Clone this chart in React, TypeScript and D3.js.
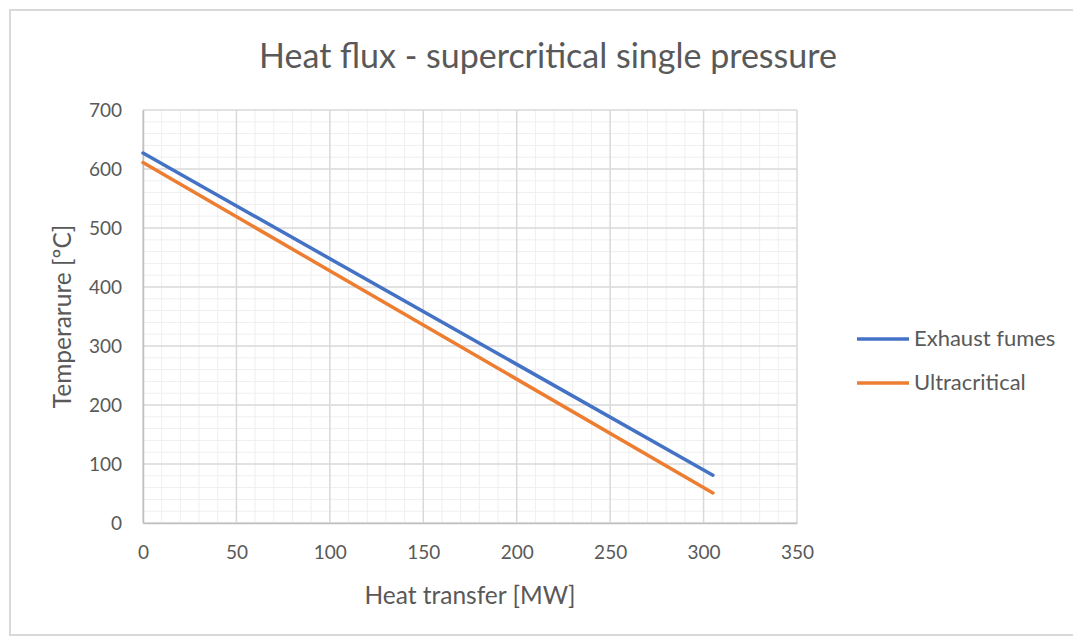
import { useEffect, useRef } from "react";
import * as d3 from "d3";

const heatTransfer = [0, 305];
const exhaustFumes = [627, 81];
const ultracritical = [611, 51];
const seriesNames = ["Exhaust fumes", "Ultracritical"];
const seriesColors = ["#4472C4", "#ED7D31"];
const xTicks = [0, 50, 100, 150, 200, 250, 300, 350];
const yTicks = [0, 100, 200, 300, 400, 500, 600, 700];

export default function App() {
  const svgRef = useRef(null);

  useEffect(() => {
    const width = 1073;
    const height = 637;
    const margin = { top: 110, right: 276, bottom: 114, left: 143 };
    const font = "Lato, 'Open Sans', sans-serif";
    const textColor = "#595959";

    const svg = d3.select(svgRef.current);
    svg.selectAll("*").remove();
    svg.attr("width", width).attr("height", height);

    // chart frame
    svg.append("rect")
      .attr("x", 10).attr("y", 10)
      .attr("width", width).attr("height", height - 12)
      .attr("fill", "#fff")
      .attr("stroke", "#d9d9d9")
      .attr("stroke-width", 2);

    const x = d3.scaleLinear()
      .domain([0, 350])
      .range([margin.left, width - margin.right]);

    const y = d3.scaleLinear()
      .domain([0, 700])
      .range([height - margin.bottom, margin.top]);

    const grid = svg.append("g");
    // minor grid
    grid.selectAll(".mx")
      .data(d3.range(0, 351, 10).filter(v => v % 50 !== 0))
      .join("line")
      .attr("x1", d => x(d)).attr("x2", d => x(d))
      .attr("y1", y(0)).attr("y2", y(700))
      .attr("stroke", "#efefef").attr("stroke-width", 1);
    grid.selectAll(".my")
      .data(d3.range(0, 701, 20).filter(v => v % 100 !== 0))
      .join("line")
      .attr("x1", x(0)).attr("x2", x(350))
      .attr("y1", d => y(d)).attr("y2", d => y(d))
      .attr("stroke", "#efefef").attr("stroke-width", 1);
    // major grid
    grid.selectAll(".Mx")
      .data(xTicks)
      .join("line")
      .attr("x1", d => x(d)).attr("x2", d => x(d))
      .attr("y1", y(0)).attr("y2", y(700))
      .attr("stroke", "#d9d9d9").attr("stroke-width", 1.5);
    grid.selectAll(".My")
      .data(yTicks)
      .join("line")
      .attr("x1", x(0)).attr("x2", x(350))
      .attr("y1", d => y(d)).attr("y2", d => y(d))
      .attr("stroke", "#d9d9d9").attr("stroke-width", 1.5);

    const xAxis = svg.append("g")
      .attr("transform", `translate(0,${y(0)})`)
      .call(d3.axisBottom(x).tickValues(xTicks).tickSize(0).tickPadding(23));
    xAxis.select(".domain").attr("stroke", "#bfbfbf").attr("stroke-width", 1.5);
    xAxis.selectAll("text").attr("font-family", font).attr("font-size", 19).attr("fill", textColor);

    const yAxis = svg.append("g")
      .attr("transform", `translate(${x(0)},0)`)
      .call(d3.axisLeft(y).tickValues(yTicks).tickSize(0).tickPadding(21));
    yAxis.select(".domain").attr("stroke", "#bfbfbf").attr("stroke-width", 1.5);
    yAxis.selectAll("text").attr("font-family", font).attr("font-size", 19).attr("fill", textColor);

    const line = d3.line<number>()
      .x((_, i) => x(heatTransfer[i]))
      .y(d => y(d));

    [exhaustFumes, ultracritical].forEach((s, i) => {
      svg.append("path")
        .datum(s)
        .attr("fill", "none")
        .attr("stroke", seriesColors[i])
        .attr("stroke-width", 3.5)
        .attr("stroke-linecap", "round")
        .attr("d", line as any);
    });

    svg.append("text")
      .attr("x", 548).attr("y", 68)
      .attr("text-anchor", "middle")
      .attr("font-family", font).attr("font-size", 34)
      .attr("fill", textColor)
      .text("Heat flux - supercritical single pressure");

    svg.append("text")
      .attr("x", (x(0) + x(350)) / 2).attr("y", 604)
      .attr("text-anchor", "middle")
      .attr("font-family", font).attr("font-size", 24.5)
      .attr("fill", textColor)
      .text("Heat transfer [MW]");

    svg.append("text")
      .attr("transform", `translate(71,${(y(0) + y(700)) / 2}) rotate(-90)`)
      .attr("text-anchor", "middle")
      .attr("font-family", font).attr("font-size", 24.5)
      .attr("fill", textColor)
      .text("Temperarure [\u00BAC]");

    const legend = svg.append("g");
    seriesNames.forEach((name, i) => {
      const ly = 339 + i * 44;
      legend.append("line")
        .attr("x1", 857).attr("x2", 909)
        .attr("y1", ly).attr("y2", ly)
        .attr("stroke", seriesColors[i]).attr("stroke-width", 3.5);
      legend.append("text")
        .attr("x", 914).attr("y", ly + 7)
        .attr("font-family", font).attr("font-size", 22)
        .attr("fill", textColor)
        .text(name);
    });
  }, []);

  return (
    <div style={{ position: "absolute", left: 0, top: 0 }}>
      <svg ref={svgRef}></svg>
    </div>
  );
}
